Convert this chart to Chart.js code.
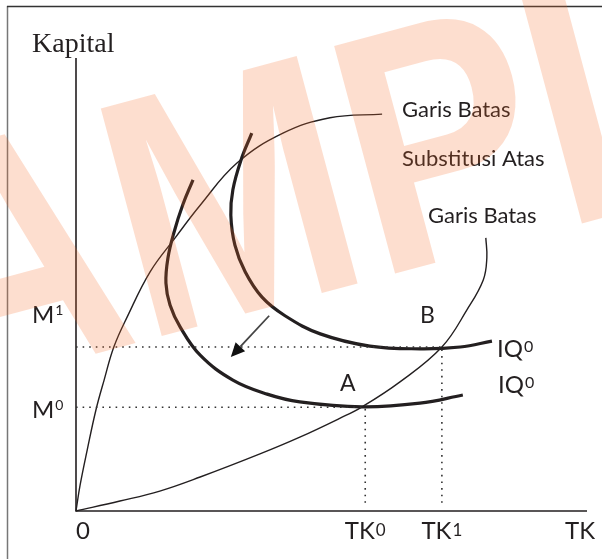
<!DOCTYPE html>
<html>
<head>
<meta charset="utf-8">
<script src="https://cdn.jsdelivr.net/npm/chart.js@4.4.1/dist/chart.umd.min.js"></script>
<style>
  body { margin: 0; background: #fff; }
  #wrap { position: relative; width: 602px; height: 559px; overflow: hidden; }
  canvas { position: absolute; left: 0; top: 0; }
</style>
</head>
<body>
<div id="wrap"><canvas id="chart" width="602" height="559"></canvas></div>
<script>
// Garis batas substitusi atas (from origin, steep)
const ridgeUpperX = [0, 0.08, 0.22, 0.39, 0.55, 0.74, 1.00, 1.45, 1.94, 2.43, 3.15, 4.05, 4.97, 5.99];
const ridgeUpperY = [0, 0.57, 1.35, 2.23, 2.89, 3.62, 4.28, 5.28, 6.03, 6.75, 7.68, 8.34, 8.68, 8.76];

// Garis batas bawah (from origin, flat then bending up)
const ridgeLowerX = [0, 0.86, 1.64, 2.43, 3.60, 4.38, 5.17, 5.60, 6.34, 7.16, 7.65, 7.97, 8.04, 8.02];
const ridgeLowerY = [0, 0.22, 0.44, 0.75, 1.26, 1.63, 2.05, 2.30, 2.85, 3.62, 4.44, 5.10, 5.59, 6.03];

// isoquant through A (lower)
const iqLowerX = [2.29, 2.09, 1.92, 1.80, 1.76, 1.84, 2.04, 2.43, 3.07, 3.74, 4.38, 5.60, 6.73, 7.57];
const iqLowerY = [7.31, 6.76, 6.16, 5.59, 5.03, 4.55, 4.06, 3.44, 2.89, 2.58, 2.41, 2.30, 2.38, 2.56];

// isoquant through B (upper)
const iqUpperX = [3.44, 3.23, 3.07, 3.03, 3.11, 3.31, 3.64, 4.09, 4.78, 5.75, 6.73, 7.52, 8.14];
const iqUpperY = [8.34, 7.75, 7.09, 6.53, 5.87, 5.28, 4.72, 4.31, 3.91, 3.64, 3.58, 3.62, 3.75];

// tick values and labels
const xTickValues = [0, 5.66, 7.16];
const xTickBase = ["0", "TK", "TK"];
const xTickSup = ["", "0", "1"];
const yTickValues = [3.62, 2.29];
const yTickBase = ["M", "M"];
const yTickSup = ["1", "0"];

// arrow (shift of isoquant)
const arrowStart = [3.78, 4.31];
const arrowEnd = [3.03, 3.40];

const INK = "#231f20";

function curve(xs, ys, width) {
  return {
    data: xs.map((x, i) => ({ x: x, y: ys[i] })),
    showLine: true,
    borderColor: INK,
    borderWidth: width,
    pointRadius: 0,
    tension: 0.4,
    fill: false,
  };
}

function dotted(x0, y0, x1, y1) {
  return {
    data: [{ x: x0, y: y0 }, { x: x1, y: y1 }],
    showLine: true,
    borderColor: "#333",
    borderWidth: 1.6,
    borderDash: [1.6, 5],
    pointRadius: 0,
    tension: 0,
  };
}

function label(ctx, x, y, base, sup, size, supSize, rise, align) {
  ctx.font = size + "px Lato";
  const w1 = ctx.measureText(base).width;
  ctx.font = supSize + "px Lato";
  const w2 = sup ? ctx.measureText(sup).width + 1 : 0;
  let left = x;
  if (align === "center") left = x - (w1 + w2) / 2;
  ctx.textAlign = "left";
  ctx.textBaseline = "alphabetic";
  ctx.font = size + "px Lato";
  ctx.fillText(base, left, y);
  if (sup) {
    ctx.font = supSize + "px Lato";
    ctx.fillText(sup, left + w1 + 1, y - rise);
  }
}

const diagram = {
  id: "diagram",
  beforeDatasetsDraw(chart) {
    const ctx = chart.ctx;
    const a = chart.chartArea;
    ctx.save();
    // frame
    ctx.lineWidth = 1.5;
    ctx.strokeStyle = "#777";
    ctx.beginPath();
    ctx.moveTo(7.5, 6);
    ctx.lineTo(7.5, 559);
    ctx.stroke();
    ctx.strokeStyle = "#333";
    ctx.beginPath();
    ctx.moveTo(7, 6.5);
    ctx.lineTo(602, 6.5);
    ctx.stroke();
    // axes
    ctx.strokeStyle = INK;
    ctx.lineWidth = 1.6;
    ctx.beginPath();
    ctx.moveTo(a.left, a.top);
    ctx.lineTo(a.left, a.bottom);
    ctx.lineTo(a.right, a.bottom);
    ctx.stroke();
    ctx.restore();
  },
  afterDatasetsDraw(chart) {
    const ctx = chart.ctx;
    const xs = chart.scales.x;
    const ys = chart.scales.y;
    ctx.save();

    // arrow
    const x0 = xs.getPixelForValue(arrowStart[0]);
    const y0 = ys.getPixelForValue(arrowStart[1]);
    const x1 = xs.getPixelForValue(arrowEnd[0]);
    const y1 = ys.getPixelForValue(arrowEnd[1]);
    const ang = Math.atan2(y1 - y0, x1 - x0);
    const head = 14;
    ctx.strokeStyle = "#444";
    ctx.lineWidth = 1.8;
    ctx.beginPath();
    ctx.moveTo(x0, y0);
    ctx.lineTo(x1 - head * Math.cos(ang), y1 - head * Math.sin(ang));
    ctx.stroke();
    ctx.fillStyle = "#111";
    ctx.beginPath();
    ctx.moveTo(x1, y1);
    ctx.lineTo(x1 - head * Math.cos(ang) + 6.5 * Math.sin(ang), y1 - head * Math.sin(ang) - 6.5 * Math.cos(ang));
    ctx.lineTo(x1 - head * Math.cos(ang) - 6.5 * Math.sin(ang), y1 - head * Math.sin(ang) + 6.5 * Math.cos(ang));
    ctx.closePath();
    ctx.fill();

    ctx.fillStyle = INK;
    // x tick labels
    xTickValues.forEach((v, i) => {
      const px = xs.getPixelForValue(v);
      label(ctx, px, 539, xTickBase[i], xTickSup[i], 24, 17, 3, i === 0 ? "left" : "center");
    });
    label(ctx, 565, 539, "TK", "", 24, 16, 0, "left");

    // y tick labels
    const yOffsets = [-24, 11];
    yTickValues.forEach((v, i) => {
      const py = ys.getPixelForValue(v);
      label(ctx, 32, py + yOffsets[i], yTickBase[i], yTickSup[i], 24, 14, 8, "left");
    });

    // axis title
    ctx.font = '28px "Liberation Serif"';
    ctx.textAlign = "left";
    ctx.fillText("Kapital", 32, 52);

    // annotations
    label(ctx, 402, 117, "Garis Batas", "", 22, 15, 0, "left");
    label(ctx, 402, 166, "Substitusi Atas", "", 22, 15, 0, "left");
    label(ctx, 428, 223, "Garis Batas", "", 22, 15, 0, "left");
    label(ctx, 420, 323, "B", "", 23, 15, 0, "left");
    label(ctx, 340, 391, "A", "", 23, 15, 0, "left");
    label(ctx, 497, 357, "IQ", "0", 24, 16, 5, "left");
    label(ctx, 498, 393, "IQ", "0", 24, 16, 5, "left");
    ctx.restore();
  },
  afterDraw(chart) {
    // SAMPLE watermark on top
    const ctx = chart.ctx;
    ctx.save();
    ctx.fillStyle = "rgba(246,105,37,0.22)";
    ctx.font = 'bold 290px "Liberation Sans"';
    const off = ctx.measureText("SA").width;
    ctx.translate(143, 341);
    ctx.rotate((-15 * Math.PI) / 180);
    ctx.scale(1, 1.18);
    ctx.textAlign = "left";
    ctx.textBaseline = "alphabetic";
    ctx.fillText("SAMPLE", -off, 0);
    ctx.restore();
  },
};

new Chart(document.getElementById("chart"), {
  type: "scatter",
  data: {
    datasets: [
      dotted(0, yTickValues[0], xTickValues[2], yTickValues[0]),
      dotted(0, yTickValues[1], xTickValues[1], yTickValues[1]),
      dotted(xTickValues[1], 0.18, xTickValues[1], yTickValues[1]),
      dotted(xTickValues[2], 0.18, xTickValues[2], yTickValues[0]),
      curve(ridgeUpperX, ridgeUpperY, 1.4),
      curve(ridgeLowerX, ridgeLowerY, 1.4),
      curve(iqLowerX, iqLowerY, 3.2),
      curve(iqUpperX, iqUpperY, 3.2),
    ],
  },
  options: {
    responsive: false,
    animation: false,
    layout: { padding: { left: 76, right: 15, top: 58, bottom: 48 } },
    scales: {
      x: { type: "linear", min: 0, max: 10, display: false },
      y: { type: "linear", min: 0, max: 10, display: false },
    },
    plugins: { legend: { display: false }, tooltip: { enabled: false } },
    clip: false,
  },
  plugins: [diagram],
});
</script>
</body>
</html>
